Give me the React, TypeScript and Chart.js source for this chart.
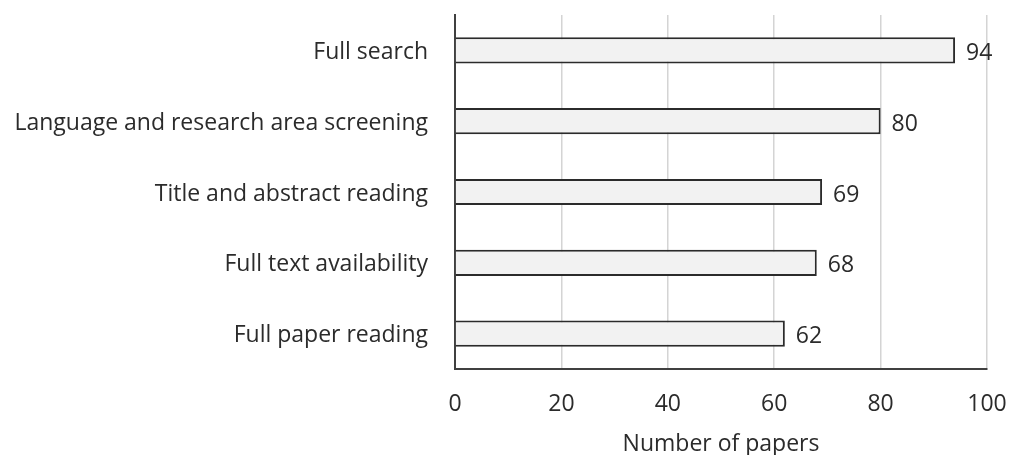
import React, { useEffect, useRef } from "react";
import { Chart, registerables } from "chart.js";

Chart.register(...registerables);

const categories = [
  "Full search",
  "Language and research area screening",
  "Title and abstract reading",
  "Full text availability",
  "Full paper reading",
];
const values = [94, 80, 69, 68, 62];
const axisMin = 0;
const axisMax = 100;
const axisStep = 20;
const axisTitle = "Number of papers";

const FONT = "'Open Sans', 'Noto Sans', sans-serif";
const SIZE = 23;
const TEXT = "#2b2b2b";

const valueLabels = {
  id: "valueLabels",
  afterDatasetsDraw(chart: any) {
    const ctx = chart.ctx;
    const meta = chart.getDatasetMeta(0);
    ctx.save();
    ctx.font = `${SIZE}px ${FONT}`;
    ctx.fillStyle = TEXT;
    ctx.textAlign = "left";
    ctx.textBaseline = "middle";
    meta.data.forEach((el: any, i: number) => {
      ctx.fillText(String(values[i]), el.x + 11, el.y + 3);
    });
    ctx.restore();
  },
};

export default function App() {
  const ref = useRef<HTMLCanvasElement | null>(null);
  useEffect(() => {
    if (!ref.current) return;
    const chart = new Chart(ref.current, {
      type: "bar",
      data: {
        labels: categories,
        datasets: [
          {
            data: values,
            backgroundColor: "#f2f2f2",
            borderColor: "#2b2b2b",
            borderWidth: 2,
            barPercentage: 0.37,
            categoryPercentage: 1,
          },
        ],
      },
      options: {
        indexAxis: "y",
        animation: false,
        responsive: false,
        maintainAspectRatio: false,
        layout: { padding: { top: 15, right: 23, left: 0, bottom: 0 } },
        plugins: {
          legend: { display: false },
          tooltip: { enabled: false },
        },
        scales: {
          x: {
            min: axisMin,
            max: axisMax,
            ticks: {
              stepSize: axisStep,
              color: TEXT,
              font: { family: FONT, size: SIZE },
              padding: 22,
            },
            grid: { color: "#d4d4d4", lineWidth: 1.5, drawTicks: false },
            border: { color: "#404040", width: 2 },
            title: {
              display: true,
              text: axisTitle,
              color: TEXT,
              font: { family: FONT, size: SIZE },
              padding: { top: 0, bottom: -3 },
            },
            afterFit(scale: any) {
              scale.height = 86;
              scale.paddingLeft = 0;
              scale.paddingRight = 0;
            },
          },
          y: {
            ticks: {
              color: TEXT,
              font: { family: FONT, size: SIZE },
              padding: 27,
              labelOffset: 2,
            },
            grid: { display: false, drawTicks: false },
            border: { color: "#404040", width: 2 },
            afterFit(scale: any) {
              scale.width = 455;
              scale.paddingTop = 0;
              scale.paddingBottom = 0;
            },
          },
        },
      },
      plugins: [valueLabels],
    });
    return () => chart.destroy();
  }, []);
  return (
    <div style={{ position: "fixed", left: 0, top: 0, width: 1010, height: 455, background: "#fff" }}>
      <canvas ref={ref} width={1010} height={455} style={{ display: "block" }} />
    </div>
  );
}
